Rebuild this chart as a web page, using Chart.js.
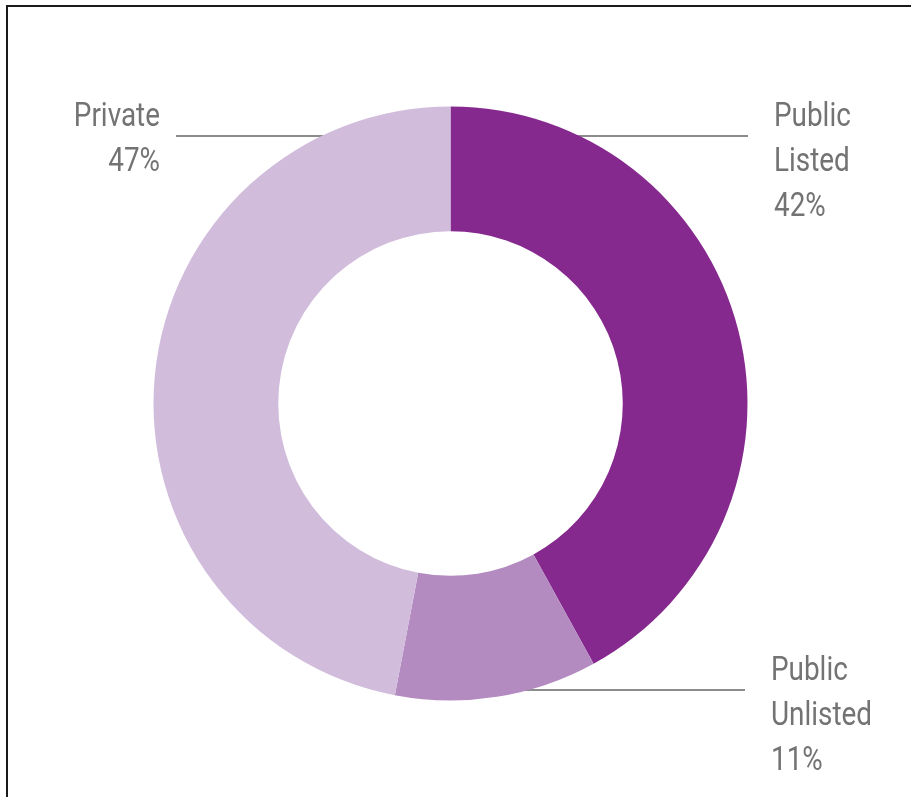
<!DOCTYPE html>
<html>
<head>
<meta charset="utf-8">
<script src="https://cdn.jsdelivr.net/npm/chart.js@4/dist/chart.umd.min.js"></script>
<style>
  html, body { margin: 0; padding: 0; background: #fff; }
  #wrap { position: relative; width: 911px; height: 797px; }
  #frame {
    position: absolute; left: 6px; top: 5px; right: -4px; bottom: -4px;
    border-top: 2px solid #1a1a1a; border-left: 2px solid #1a1a1a;
    pointer-events: none;
  }
  canvas { position: absolute; left: 0; top: 0; }
</style>
</head>
<body>
<div id="wrap">
  <canvas id="ownership" width="911" height="797"></canvas>
  <div id="frame"></div>
</div>
<script>
// Ownership split, clockwise from 12 o'clock
const categories = ['Public Listed', 'Public Unlisted', 'Private'];
const shares = [42, 11, 47];
const sliceColors = ['#86298f', '#b38bc1', '#d1bcdc'];

// Label placement per slice: leader line height, text anchor x, side, first baseline
const labelSpots = [
  { lineY: 136, textX: 774, side: 'right', baseY: 126 },
  { lineY: 690, textX: 771, side: 'right', baseY: 680 },
  { lineY: 136, textX: 160, side: 'left', baseY: 126 }
];

const LABEL_FONT = '400 34px Roboto, "DejaVu Sans Condensed", sans-serif';
const SQUEEZE = 0.82;   // narrow the glyphs horizontally
const LINE_GAP = 45;

// Draws the leader lines behind the ring and the text beside them
const leaderLabels = {
  id: 'leaderLabels',
  beforeDatasetsDraw(chart) {
    const { ctx } = chart;
    const arcs = chart.getDatasetMeta(0).data;
    ctx.save();
    ctx.strokeStyle = '#8c8c8c';
    ctx.lineWidth = 2;
    arcs.forEach((arc, i) => {
      const spot = labelSpots[i];
      const r = arc.outerRadius;
      const dy = spot.lineY - arc.y;
      const half = Math.sqrt(Math.max(r * r - dy * dy, 0));
      const edgeX = spot.side === 'right' ? arc.x + half - 6 : arc.x - half + 6;
      const startX = spot.side === 'right' ? spot.textX - 26 : spot.textX + 16;
      ctx.beginPath();
      ctx.moveTo(startX, spot.lineY);
      ctx.lineTo(edgeX, spot.lineY);
      ctx.stroke();
    });
    ctx.restore();
  },
  afterDatasetsDraw(chart) {
    const { ctx } = chart;
    const labels = chart.data.labels;
    const values = chart.data.datasets[0].data;
    ctx.save();
    ctx.font = LABEL_FONT;
    ctx.fillStyle = '#737373';
    ctx.textBaseline = 'alphabetic';
    labels.forEach((name, i) => {
      const spot = labelSpots[i];
      ctx.textAlign = spot.side === 'right' ? 'left' : 'right';
      const lines = name.split(' ').concat(values[i] + '%');
      lines.forEach((txt, k) => {
        ctx.save();
        ctx.translate(spot.textX, spot.baseY + k * LINE_GAP);
        ctx.scale(SQUEEZE, 1);
        ctx.fillText(txt, 0, 0);
        ctx.restore();
      });
    });
    ctx.restore();
  }
};

new Chart(document.getElementById('ownership'), {
  type: 'doughnut',
  data: {
    labels: categories,
    datasets: [{
      data: shares,
      backgroundColor: sliceColors,
      borderWidth: 0,
      hoverOffset: 0
    }]
  },
  options: {
    responsive: false,
    animation: false,
    cutout: '58%',
    rotation: 0,
    layout: { padding: { left: 153.5, top: 106.5, right: 163.5, bottom: 96.5 } },
    plugins: {
      legend: { display: false },
      tooltip: { enabled: false }
    }
  },
  plugins: [leaderLabels]
});
</script>
</body>
</html>
